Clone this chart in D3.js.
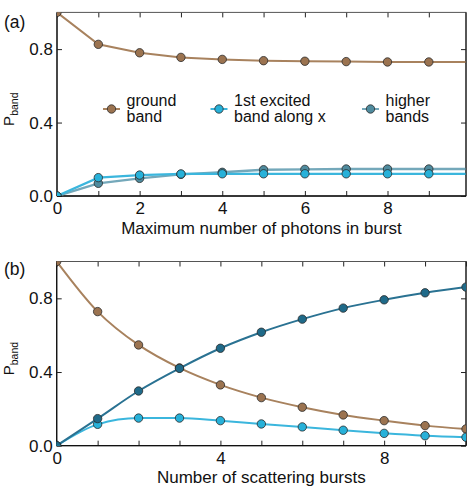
<!DOCTYPE html>
<html><head><meta charset="utf-8">
<script src="https://cdn.jsdelivr.net/npm/d3@7"></script>
<style>body{margin:0;background:#fff}svg{display:block}text{font-family:"Liberation Sans",Arial,sans-serif;fill:#111}</style>
</head><body>
<svg id="c" width="474" height="488"></svg>
<script>
// Panel (a): maximum number of photons in burst
const xA = [0,1,2,3,4,5,6,7,8,9,10];
const groundA = [1.0,0.826,0.780,0.755,0.744,0.737,0.734,0.732,0.730,0.730,0.730];
const firstA  = [0.0,0.100,0.114,0.120,0.121,0.121,0.121,0.121,0.121,0.121,0.121];
const higherA = [0.0,0.069,0.096,0.118,0.129,0.143,0.145,0.147,0.147,0.147,0.147];
// Panel (b): number of scattering bursts
const xB = [0,1,2,3,4,5,6,7,8,9,10];
const groundB = [1.0,0.728,0.547,0.422,0.330,0.261,0.209,0.167,0.136,0.109,0.091];
const firstB  = [0.0,0.116,0.150,0.150,0.136,0.118,0.102,0.084,0.067,0.054,0.046];
const higherB = [0.0,0.147,0.297,0.420,0.529,0.616,0.687,0.747,0.792,0.830,0.861];
const yTicks = [0,0.4,0.8];
const xTicksA = [0,2,4,6,8];
const xTicksB = [0,4,8];
const legendLabels = [["ground","band"],["1st excited","band along x"],["higher","bands"]];

const C = {
  ground:{fill:"#9b7350", line:"#a8825e"},
  first:{fill:"#27b1d9", line:"#3bb6dd"},
  higherA:{fill:"#4f8b9e", line:"#74a8ba"},
  higherB:{fill:"#1f6a89", line:"#2a7292"}
};

const svg = d3.select("#c");

function panel(o){
  const x = d3.scaleLinear().domain(o.xdom).range([o.left,o.right]);
  const y = d3.scaleLinear().domain([0,1]).range([o.bottom,o.top]);
  const g = svg.append("g");
  const clipId = "clip"+o.id;
  svg.append("clipPath").attr("id",clipId).append("rect")
    .attr("x",o.left).attr("y",o.top).attr("width",o.right-o.left).attr("height",o.bottom-o.top);
  const ints = d3.range(0, Math.floor(o.xdom[1])+1);
  const ax = d3.axisBottom(x).tickValues(ints).tickSizeInner(-5).tickSizeOuter(0).tickPadding(o.xpad)
    .tickFormat(d => o.xlabels.includes(d) ? d : "");
  const axTop = d3.axisTop(x).tickValues(ints).tickSizeInner(-5).tickSizeOuter(0).tickFormat("");
  const ay = d3.axisLeft(y).tickValues(yTicks).tickSizeInner(-5).tickSizeOuter(0).tickPadding(4)
    .tickFormat(d3.format(".1f"));
  const ayR = d3.axisRight(y).tickValues(yTicks).tickSizeInner(-5).tickSizeOuter(0).tickFormat("");
  const styleAx = s => { s.select(".domain").remove(); s.selectAll("line").attr("stroke","#222").attr("stroke-width",1);
    s.selectAll("text").attr("font-size",17).attr("font-family","Liberation Sans, Arial, sans-serif").attr("fill","#111"); };
  g.append("g").attr("transform",`translate(0,${o.bottom})`).call(ax).call(styleAx);
  g.append("g").attr("transform",`translate(0,${o.top})`).call(axTop).call(styleAx);
  g.append("g").attr("transform",`translate(${o.left},0)`).call(ay).call(styleAx);
  g.append("g").attr("transform",`translate(${o.right},0)`).call(ayR).call(styleAx);

  g.append("rect").attr("x",o.left).attr("y",o.top).attr("width",o.right-o.left).attr("height",o.bottom-o.top)
    .attr("fill","none").attr("stroke","#555").attr("stroke-width",1);
  g.append("line").attr("x1",o.left).attr("x2",o.left).attr("y1",o.top).attr("y2",o.bottom).attr("stroke","#111").attr("stroke-width",1.3);
  g.append("line").attr("x1",o.left).attr("x2",o.right).attr("y1",o.bottom).attr("y2",o.bottom).attr("stroke","#111").attr("stroke-width",1.3);
  g.append("line").attr("x1",o.right).attr("x2",o.right).attr("y1",o.top).attr("y2",o.bottom).attr("stroke","#111").attr("stroke-width",1.1);

  const line = d3.line().x(d=>x(d[0])).y(d=>y(d[1])).curve(o.curve);
  const plot = g.append("g").attr("clip-path",`url(#${clipId})`);
  o.series.forEach(s => {
    const pts = o.xs.map((v,i)=>[v,s.vals[i]]);
    plot.append("path").attr("d",line(pts)).attr("fill","none").attr("stroke",s.c.line).attr("stroke-width",s.lw);
  });
  o.series.forEach(s => {
    const pts = o.xs.map((v,i)=>[v,s.vals[i]]);
    plot.selectAll(null).data(pts).enter().append("circle")
      .attr("cx",d=>x(d[0])).attr("cy",d=>y(d[1])).attr("r",4.2)
      .attr("fill",s.c.fill).attr("stroke","#2a2a2a").attr("stroke-width",0.8);
  });

  g.append("text").attr("x",(o.left+o.right)/2).attr("y",o.bottom+o.tpad).attr("text-anchor","middle")
    .attr("font-size",17).text(o.title);
  const yl = g.append("text").attr("transform",`translate(14,${(o.top+o.bottom)/2+5}) rotate(-90)`).attr("text-anchor","middle");
  yl.append("tspan").attr("font-size",15).text("P");
  yl.append("tspan").attr("font-size",10.5).attr("dy",4).text("band");
  g.append("text").attr("x",4).attr("y",o.top+o.plab).attr("font-size",17.5).text(o.label);
  return {x,y,g};
}

panel({id:"a",left:57,right:466,top:12.4,bottom:196,xdom:[0,9.9],xs:xA,xpad:6,tpad:37.5,plab:16,curve:d3.curveLinear,
  xlabels:xTicksA,title:"Maximum number of photons in burst",label:"(a)",
  series:[{vals:groundA,c:C.ground,lw:2},{vals:higherA,c:C.higherA,lw:2.4},{vals:firstA,c:C.first,lw:2.2}]});
panel({id:"b",left:56.7,right:466,top:261.5,bottom:445.7,xdom:[0,10],xs:xB,xpad:6,tpad:37.5,plab:13,curve:d3.curveMonotoneX,
  xlabels:xTicksB,title:"Number of scattering bursts",label:"(b)",
  series:[{vals:groundB,c:C.ground,lw:2},{vals:firstB,c:C.first,lw:2},{vals:higherB,c:C.higherB,lw:2}]});

// legend in panel (a)
const legX = [111.5,219,370.5];
const legC = [C.ground,C.first,C.higherA];
const leg = svg.append("g");
legendLabels.forEach((lab,i)=>{
  const cx = legX[i], cy = 109;
  leg.append("line").attr("x1",cx-8.5).attr("x2",cx+8.5).attr("y1",cy).attr("y2",cy).attr("stroke",legC[i].line).attr("stroke-width",2);
  leg.append("circle").attr("cx",cx).attr("cy",cy).attr("r",4.2).attr("fill",legC[i].fill).attr("stroke","#2a2a2a").attr("stroke-width",0.8);
  leg.append("text").attr("x",cx+15).attr("y",cy-3.5).attr("font-size",16).text(lab[0]);
  leg.append("text").attr("x",cx+15).attr("y",cy+13).attr("font-size",16).text(lab[1]);
});
</script>
</body></html>
